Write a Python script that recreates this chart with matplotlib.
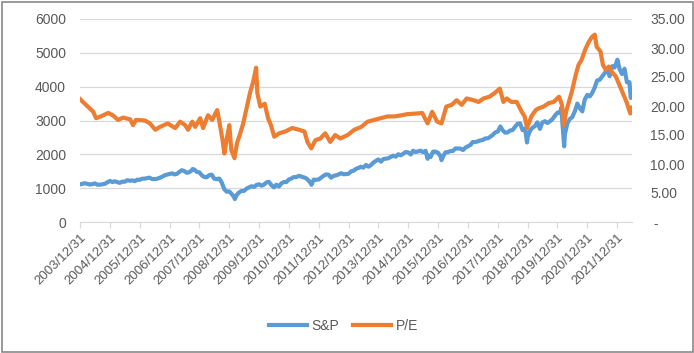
import numpy as np
import pandas as pd
import matplotlib
matplotlib.use("Agg")
import matplotlib.pyplot as plt
import matplotlib.dates as mdates
from matplotlib.patches import Rectangle
from matplotlib.ticker import FixedLocator, FuncFormatter

plt.rcParams['font.family'] = ['Liberation Sans', 'DejaVu Sans']

# S&P monthly closes, 2003/12/31 .. 2022/06/30
sp_values = [
    1112,
    1131, 1145, 1126, 1107, 1121, 1141, 1102, 1104, 1115, 1130, 1174, 1212,
    1181, 1204, 1181, 1157, 1192, 1191, 1234, 1220, 1229, 1207, 1249, 1248,
    1280, 1281, 1295, 1311, 1270, 1270, 1277, 1304, 1336, 1378, 1401, 1418,
    1438, 1407, 1421, 1482, 1531, 1503, 1455, 1474, 1527, 1549, 1481, 1468,
    1378, 1331, 1323, 1386, 1400, 1280, 1267, 1283, 1166, 969, 896, 903,
    826, 735, 798, 873, 919, 919, 987, 1021, 1057, 1036, 1096, 1115,
    1074, 1104, 1169, 1187, 1089, 1031, 1102, 1049, 1141, 1183, 1181, 1258,
    1286, 1327, 1326, 1364, 1345, 1321, 1292, 1219, 1131, 1253, 1247, 1258,
    1312, 1366, 1408, 1398, 1310, 1362, 1379, 1407, 1441, 1412, 1416, 1426,
    1498, 1515, 1569, 1598, 1631, 1606, 1686, 1633, 1682, 1757, 1806, 1848,
    1783, 1859, 1872, 1884, 1924, 1960, 1931, 2003, 1972, 2018, 2068, 2059,
    1995, 2105, 2068, 2086, 2107, 2063, 2104, 1972, 1920, 2079, 2080, 2044,
    1940, 1932, 2060, 2065, 2097, 2099, 2174, 2171, 2168, 2126, 2199, 2239,
    2279, 2364, 2363, 2384, 2412, 2423, 2470, 2472, 2519, 2575, 2648, 2674,
    2824, 2714, 2641, 2648, 2705, 2718, 2816, 2902, 2914, 2712, 2760, 2507,
    2704, 2784, 2834, 2946, 2752, 2942, 2980, 2926, 2977, 3038, 3141, 3231,
    3226, 2954, 2585, 2912, 3044, 3100, 3271, 3500, 3363, 3270, 3622, 3756,
    3714, 3811, 3973, 4181, 4204, 4298, 4395, 4523, 4308, 4605, 4567, 4766,
    4516, 4374, 4530, 4132, 4132, 3785,
]
sp_dates = pd.date_range('2003-12-31', '2022-06-30', freq='ME')

# intra-month highs/lows visible on the chart
sp_extra_dates = ['2007-10-09', '2009-03-09', '2010-07-02', '2011-10-03', '2015-08-25',
                  '2016-02-11', '2018-12-24', '2020-02-19', '2020-03-23', '2022-01-03',
                  '2022-06-16']
sp_extra_values = [1565, 677, 1023, 1099, 1868, 1829, 2351, 3386, 2237, 4797, 3667]

pe_dates = [
    '2003-12-31', '2004-02-05', '2004-04-05', '2004-06-10', '2004-07-15', '2004-09-10',
    '2004-12-10', '2005-02-05', '2005-04-10', '2005-06-10', '2005-09-05', '2005-10-10',
    '2005-11-15', '2006-03-05', '2006-05-05', '2006-07-10', '2006-09-05', '2006-12-10',
    '2007-01-10', '2007-03-10', '2007-05-10', '2007-07-10', '2007-08-15', '2007-10-05',
    '2007-11-10', '2008-01-10', '2008-02-15', '2008-04-15', '2008-06-05', '2008-08-05',
    '2008-09-01', '2008-10-10', '2008-11-01', '2008-12-05', '2009-01-01', '2009-01-25',
    '2009-03-05', '2009-04-05', '2009-05-15', '2009-06-20', '2009-08-05', '2009-09-10',
    '2009-10-20', '2009-11-25', '2009-12-10', '2010-01-15', '2010-03-10', '2010-04-20',
    '2010-05-25', '2010-07-05', '2010-09-05', '2010-11-15', '2011-02-10', '2011-05-05',
    '2011-07-10', '2011-08-15', '2011-10-01', '2011-11-20', '2012-01-20', '2012-03-20',
    '2012-05-20', '2012-07-20', '2012-09-20', '2012-12-20', '2013-03-10', '2013-06-05',
    '2013-08-20', '2013-11-10', '2014-02-05', '2014-04-20', '2014-07-15', '2014-10-10',
    '2014-12-20', '2015-04-10', '2015-06-20', '2015-08-25', '2015-10-20', '2015-12-20',
    '2016-02-11', '2016-04-10', '2016-06-15', '2016-08-15', '2016-10-15', '2016-12-15',
    '2017-03-10', '2017-05-10', '2017-07-10', '2017-09-20', '2017-11-20', '2018-01-25',
    '2018-03-10', '2018-04-20', '2018-06-15', '2018-08-20', '2018-10-20', '2018-11-25',
    '2018-12-24', '2019-02-15', '2019-04-10', '2019-05-15', '2019-07-15', '2019-09-15',
    '2019-11-15', '2020-01-20', '2020-02-25', '2020-03-20', '2020-04-15', '2020-05-20',
    '2020-06-25', '2020-08-10', '2020-09-15', '2020-10-20', '2020-12-10', '2021-01-20',
    '2021-02-25', '2021-04-01', '2021-04-25', '2021-06-10', '2021-07-10', '2021-08-15',
    '2021-09-20', '2021-10-25', '2021-12-15', '2022-02-10', '2022-03-20', '2022-04-25',
    '2022-06-10', '2022-06-30',
]
pe_values = [
    21.2, 20.7, 19.9, 19.0, 17.9, 18.2,
    18.8, 18.4, 17.6, 18.0, 17.7, 16.7,
    17.6, 17.5, 17.0, 15.9, 16.4, 17.0,
    16.7, 16.2, 17.3, 16.7, 15.9, 17.3,
    16.4, 17.9, 16.2, 18.4, 17.6, 19.3,
    17.3, 14.1, 11.8, 14.7, 16.7, 12.4,
    11.0, 13.6, 15.3, 17.0, 19.9, 22.2,
    24.2, 26.6, 22.2, 19.9, 20.4, 17.9,
    16.7, 14.7, 15.3, 15.6, 16.2, 15.9,
    15.6, 13.8, 12.7, 14.1, 14.4, 15.3,
    13.8, 15.0, 14.4, 15.0, 15.9, 16.4,
    17.3, 17.6, 17.9, 18.2, 18.2, 18.4,
    18.6, 18.7, 18.8, 17.0, 19.0, 17.3,
    17.0, 19.9, 20.2, 21.0, 20.2, 21.3,
    21.0, 20.7, 21.3, 21.6, 22.2, 23.0,
    20.7, 21.3, 20.7, 20.7, 19.0, 18.2,
    16.2, 18.2, 19.3, 19.6, 19.9, 20.5,
    20.7, 21.6, 20.2, 16.7, 19.0, 20.7,
    22.5, 25.3, 27.1, 27.9, 29.9, 31.1,
    31.9, 32.3, 30.2, 29.4, 27.1, 26.2,
    26.8, 25.9, 25.1, 23.2, 21.9, 20.7,
    18.7, 19.7,
]

year_ticks = [f'{y}/12/31' for y in range(2003, 2022)]

sp = pd.Series(sp_values, index=sp_dates)
sp = pd.concat([sp, pd.Series(sp_extra_values, index=pd.to_datetime(sp_extra_dates))]).sort_index()
pe = pd.Series(pe_values, index=pd.to_datetime(pe_dates))

blue = '#5B9BD5'
orange = '#ED7D31'
grid = '#D9D9D9'
txt = '#595959'

fig = plt.figure(figsize=(6.94, 3.53), dpi=100)
ax = fig.add_axes([80 / 694, 1 - 222 / 353, 552 / 694, 203 / 353])
ax2 = ax.twinx()

l1, = ax.plot(sp.index, sp.values, color=blue, lw=3.0, solid_joinstyle='round', label='S&P')
l2, = ax2.plot(pe.index, pe.values, color=orange, lw=3.0, solid_joinstyle='round', label='P/E')

ax.set_xlim(pd.Timestamp('2003-12-31'), pd.Timestamp('2022-07-01'))
ax.set_ylim(0, 6000)
ax2.set_ylim(0, 35)
ax.set_yticks(np.arange(0, 6001, 1000))
ax2.set_yticks(np.arange(0, 35.1, 5))
ax2.yaxis.set_major_formatter(FuncFormatter(lambda v, p: ' -' if v == 0 else f'{v:.2f}'))

tick_pos = mdates.date2num(pd.to_datetime(year_ticks, format='%Y/%m/%d'))
ax.xaxis.set_major_locator(FixedLocator(tick_pos))
ax.set_xticklabels(year_ticks, rotation=45, ha='right', rotation_mode='anchor')

ax.grid(axis='y', color=grid, lw=0.9)
ax.set_axisbelow(True)
for a in (ax, ax2):
    for s in a.spines.values():
        s.set_visible(False)
ax.spines['bottom'].set_visible(True)
ax.spines['bottom'].set_color(grid)
ax.tick_params(axis='x', colors=grid, length=4, width=0.9, labelcolor=txt, labelsize=9.5, pad=3)
ax.tick_params(axis='y', length=0, labelcolor=txt, labelsize=10, pad=10)
ax2.tick_params(axis='y', length=0, labelcolor=txt, labelsize=10, pad=13)

fig.legend(handles=[l1, l2], loc='center', bbox_to_anchor=(0.495, 1 - 326 / 353), ncol=2,
           frameon=False, fontsize=10, labelcolor=txt, handlelength=2.7, handletextpad=0.35,
           columnspacing=1.0)

fig.patches.append(Rectangle((1.5 / 694, 1.5 / 353), 691 / 694, 350 / 353, transform=fig.transFigure,
                             fill=False, edgecolor='#898989', lw=1.2))

fig.savefig('out.png', dpi=100)
